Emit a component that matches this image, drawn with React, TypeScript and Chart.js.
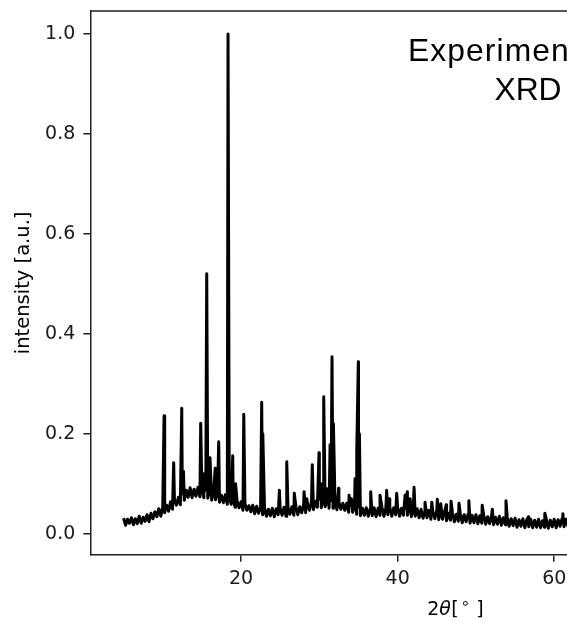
import React, { useEffect, useRef } from "react";
import { Chart, registerables } from "chart.js";

Chart.register(...registerables);

const BASE_START = 5;
const BASE_STEP = 0.25;
const baseline = [
  0.031, 0.017, 0.029, 0.021, 0.032, 0.018, 0.030, 0.020, // 5
  0.035, 0.021, 0.033, 0.025, 0.038, 0.024, 0.041, 0.030, // 7
  0.044, 0.034, 0.050, 0.035, 0.053, 0.042, 0.057, 0.045, // 9
  0.064, 0.049, 0.066, 0.057, 0.073, 0.058, 0.080, 0.067, // 11
  0.087, 0.073, 0.092, 0.072, 0.089, 0.075, 0.093, 0.074, // 13
  0.091, 0.072, 0.087, 0.071, 0.088, 0.067, 0.082, 0.068, // 15
  0.081, 0.063, 0.077, 0.062, 0.078, 0.059, 0.072, 0.059, // 17
  0.069, 0.053, 0.065, 0.052, 0.064, 0.047, 0.061, 0.047, // 19
  0.056, 0.044, 0.057, 0.040, 0.055, 0.041, 0.052, 0.038, // 21
  0.052, 0.035, 0.049, 0.036, 0.051, 0.034, 0.050, 0.038, // 23
  0.050, 0.037, 0.053, 0.035, 0.052, 0.039, 0.054, 0.037, // 25
  0.055, 0.038, 0.054, 0.042, 0.058, 0.042, 0.059, 0.047, // 27
  0.065, 0.048, 0.065, 0.053, 0.069, 0.052, 0.068, 0.054, // 29
  0.069, 0.051, 0.066, 0.051, 0.066, 0.048, 0.063, 0.049, // 31
  0.061, 0.047, 0.061, 0.043, 0.057, 0.043, 0.056, 0.039, // 33
  0.054, 0.036, 0.051, 0.037, 0.052, 0.035, 0.050, 0.036, // 35
  0.052, 0.034, 0.051, 0.037, 0.053, 0.035, 0.052, 0.038, // 37
  0.053, 0.035, 0.052, 0.038, 0.053, 0.035, 0.051, 0.037, // 39
  0.051, 0.037, 0.052, 0.034, 0.049, 0.035, 0.050, 0.032, // 41
  0.049, 0.031, 0.046, 0.032, 0.047, 0.029, 0.044, 0.030, // 43
  0.046, 0.028, 0.043, 0.029, 0.044, 0.026, 0.041, 0.027, // 45
  0.042, 0.024, 0.039, 0.025, 0.040, 0.022, 0.038, 0.024, // 47
  0.039, 0.021, 0.037, 0.022, 0.038, 0.020, 0.036, 0.021, // 49
  0.037, 0.019, 0.034, 0.020, 0.036, 0.018, 0.033, 0.019, // 51
  0.035, 0.017, 0.032, 0.018, 0.033, 0.015, 0.030, 0.016, // 53
  0.031, 0.013, 0.028, 0.015, 0.030, 0.012, 0.028, 0.014, // 55
  0.029, 0.012, 0.027, 0.013, 0.029, 0.012, 0.026, 0.013, // 57
  0.028, 0.011, 0.027, 0.014, 0.029, 0.012, 0.028, 0.015, // 59
  0.030, 0.014, 0.029, 0.015, 0.031, // 61 - 62
];

// Tail of the scan (beyond the visible part), 1° steps from 63°
const TAIL_START = 63;
const TAIL_STEP = 1;
const tail = [
  0.027, 0.013, 0.027, 0.012, 0.026, 0.012, 0.026, 0.011, 0.026, 0.011,
  0.025, 0.011, 0.025, 0.010, 0.025, 0.010, 0.024, 0.010, 0.024, 0.009,
  0.024, 0.009, 0.023, 0.009, 0.023, 0.009, 0.023, 0.009,
];

// Diffraction peaks (2θ in degrees, normalised intensity)
const peakX = [
  10.17, 11.40, 12.43, 12.65, 14.85, 15.30, 15.62, 16.04, 16.70, 17.15,
  18.34, 18.94, 19.30, 20.35, 22.64, 22.78, 24.90, 25.84, 26.80, 28.05,
  28.40, 29.10, 29.96, 30.20, 30.56, 31.00, 31.37, 31.62, 31.80, 32.47,
  33.80, 34.10, 34.56, 34.78, 34.98, 35.12, 36.56, 37.75, 38.60, 38.90,
  39.88, 40.95, 41.24, 41.60, 42.10, 43.50, 44.36, 45.07, 45.50, 46.20,
  46.82, 47.84, 49.10, 50.80, 52.10, 53.84, 56.70, 58.80, 61.10,
  63.50, 65.80, 68.70, 72.50, 76.20, 82.00,
];
const peakY = [
  0.236, 0.142, 0.251, 0.125, 0.221, 0.120, 0.520, 0.152, 0.131, 0.184,
  1.000, 0.156, 0.100, 0.239, 0.263, 0.200, 0.087, 0.144, 0.081, 0.084,
  0.070, 0.138, 0.162, 0.100, 0.274, 0.090, 0.178, 0.354, 0.220, 0.091,
  0.077, 0.070, 0.110, 0.164, 0.344, 0.200, 0.084, 0.077, 0.087, 0.070,
  0.081, 0.077, 0.084, 0.070, 0.093, 0.063, 0.063, 0.069, 0.060, 0.058,
  0.065, 0.061, 0.066, 0.057, 0.049, 0.066, 0.034, 0.041, 0.040,
  0.035, 0.040, 0.032, 0.030, 0.028, 0.026,
];

const X_MIN = 0.75;
const X_MAX = 94.25;
const Y_MIN = -0.042;
const Y_MAX = 1.046;
const X_STEP = 20;
const Y_STEP = 0.2;

const Y_LABEL = "intensity [a.u.]";
const NOTE_LINE1 = "Experimental";
const NOTE_LINE2 = "XRD";

function buildPoints() {
  const pts: { x: number; y: number }[] = [];
  baseline.forEach((y, i) => pts.push({ x: BASE_START + i * BASE_STEP, y }));
  tail.forEach((y, i) => pts.push({ x: TAIL_START + i * TAIL_STEP, y }));
  peakX.forEach((x, i) => pts.push({ x, y: peakY[i] }));
  pts.sort((a, b) => a.x - b.x);
  return pts;
}

const framePlugin = {
  id: "frame",
  afterDraw(chart: any) {
    const { ctx, chartArea } = chart;
    const { left, right, top, bottom } = chartArea;
    ctx.save();
    ctx.strokeStyle = "#222";
    ctx.lineWidth = 1.5;
    ctx.beginPath();
    ctx.moveTo(left, top);
    ctx.lineTo(right, top);
    ctx.lineTo(right, bottom);
    ctx.stroke();

    // x-axis label: 2θ[∘] with italic theta
    const cx = (left + right) / 2;
    const by = 615;
    ctx.fillStyle = "#000";
    ctx.textBaseline = "alphabetic";
    ctx.textAlign = "left";
    ctx.font = "19px 'DejaVu Sans'";
    ctx.fillText("2", cx - 29, by);
    ctx.font = "italic 19px 'DejaVu Sans'";
    ctx.fillText("θ", cx - 17, by);
    ctx.font = "19px 'DejaVu Sans'";
    ctx.fillText("[", cx - 5, by);
    ctx.fillText("]", cx + 20, by);
    ctx.textAlign = "center";
    ctx.font = "15px 'DejaVu Sans'";
    ctx.fillText("∘", cx + 9, by - 7);

    // annotation text
    ctx.font = "31.8px 'Liberation Sans', Arial, sans-serif";
    ctx.textAlign = "left";
    try {
      (ctx as any).letterSpacing = "1.1px";
    } catch (e) {}
    ctx.fillText(NOTE_LINE1, 408, 61);
    try {
      (ctx as any).letterSpacing = "0px";
    } catch (e) {}
    ctx.textAlign = "center";
    ctx.fillText(NOTE_LINE2, 528, 100);
    ctx.restore();
  },
};

export default function App() {
  const ref = useRef<HTMLCanvasElement>(null);
  useEffect(() => {
    document.body.style.margin = "0";
    if (!ref.current) return;
    const tickFont = { family: "'DejaVu Sans'", size: 19 };
    const chart = new Chart(ref.current, {
      type: "line",
      data: {
        datasets: [
          {
            data: buildPoints(),
            borderColor: "#000",
            borderWidth: 3,
            borderJoinStyle: "round",
            borderCapStyle: "butt",
            pointRadius: 0,
            tension: 0,
            fill: false,
          },
        ],
      },
      options: {
        animation: false,
        responsive: false,
        devicePixelRatio: 1,
        parsing: false,
        layout: { padding: { left: 0, top: 11, right: 15.6, bottom: 0 } },
        plugins: {
          legend: { display: false },
          tooltip: { enabled: false },
          title: { display: false },
        },
        scales: {
          x: {
            type: "linear",
            min: X_MIN,
            max: X_MAX,
            ticks: {
              stepSize: X_STEP,
              includeBounds: false,
              autoSkip: false,
              maxRotation: 0,
              padding: 6,
              color: "#1a1a1a",
              font: tickFont,
              callback: (v: any) => String(Math.round(Number(v))),
            },
            grid: {
              drawOnChartArea: false,
              drawTicks: true,
              tickLength: 7,
              color: "#222",
              lineWidth: 1.5,
            },
            border: { display: true, color: "#222", width: 1.5 },
            afterFit: (s: any) => {
              s.height = 65.3;
              s.paddingLeft = 0;
              s.paddingRight = 0;
            },
          },
          y: {
            type: "linear",
            min: Y_MIN,
            max: Y_MAX,
            ticks: {
              stepSize: Y_STEP,
              includeBounds: false,
              autoSkip: false,
              padding: 8,
              color: "#1a1a1a",
              font: tickFont,
              callback: (v: any) => Number(v).toFixed(1),
            },
            grid: {
              drawOnChartArea: false,
              drawTicks: true,
              tickLength: 7,
              color: "#222",
              lineWidth: 1.5,
            },
            border: { display: true, color: "#222", width: 1.5 },
            title: {
              display: true,
              text: Y_LABEL,
              color: "#000",
              font: { family: "'DejaVu Sans'", size: 19.5 },
              padding: { top: 12, bottom: 0 },
            },
            afterFit: (s: any) => {
              s.width = 90.3;
              s.paddingTop = 0;
              s.paddingBottom = 0;
            },
          },
        },
      } as any,
      plugins: [framePlugin],
    });
    return () => chart.destroy();
  }, []);
  return (
    <div
      style={{
        width: 567,
        height: 620,
        overflow: "hidden",
        position: "relative",
      }}
    >
      <canvas
        ref={ref}
        width={838}
        height={620}
        style={{ display: "block", width: 838, height: 620 }}
      />
    </div>
  );
}
